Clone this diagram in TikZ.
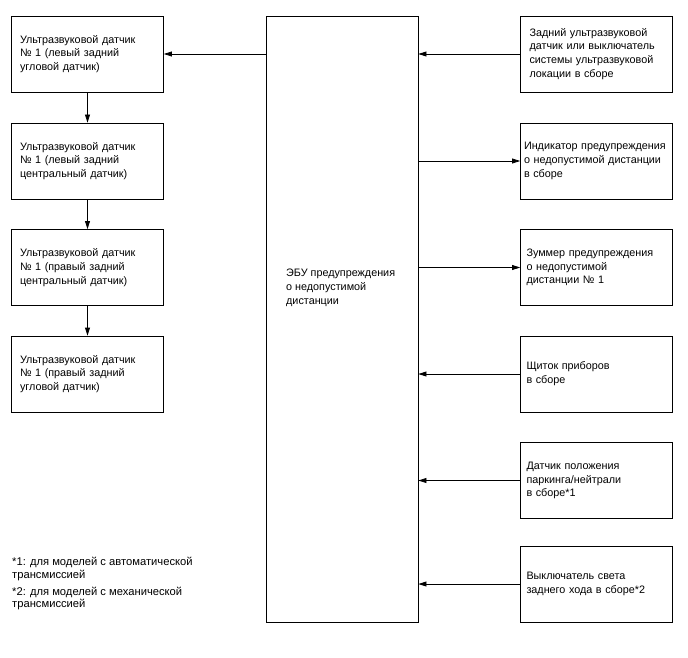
\documentclass[tikz,border=0pt]{standalone}
\usepackage{fontspec}
\setmainfont{Liberation Sans}
\usetikzlibrary{arrows.meta, calc}
\tikzset{
  block/.style={draw, line width=0.8pt, minimum width=152pt, minimum height=76pt,
    inner sep=0pt, text width=#1, align=left},
  block/.default=135pt,
  link/.style={-{Triangle[length=8pt, width=5pt]}, line width=0.8pt},
  note/.style={anchor=west, align=left, inner sep=0pt,
    font=\fontsize{11.2}{12.2}\selectfont},
  every node/.append style={font=\fontsize{10.8}{13.8}\selectfont}
}

\begin{document}
\begin{tikzpicture}[x=1pt, y=-1pt]
\useasboundingbox (0,0) rectangle (688,658);
% ECU
\node[draw, line width=0.8pt, minimum width=152pt, minimum height=606pt] (ecu) at (342,319) {};
\node[anchor=west, align=left, inner sep=0pt] (ecutext) at (286,288)
  {ЭБУ предупреждения\\о недопустимой\\дистанции};
% left column
\node[block] (sl1) at (87.5,54) {Ультразвуковой датчик\\№ 1 (левый задний\\угловой датчик)};
\node[block] (sl2) at (87.5,161) {Ультразвуковой датчик\\№ 1 (левый задний\\центральный датчик)};
\node[block] (sl3) at (87.5,267.5) {Ультразвуковой датчик\\№ 1 (правый задний\\центральный датчик)};
\node[block] (sl4) at (87.5,374) {Ультразвуковой датчик\\№ 1 (правый задний\\угловой датчик)};
% right column
\node[block=134pt] (sr1) at (596.5,54) {Задний ультразвуковой\\датчик или выключатель\\системы ультразвуковой\\локации в сборе};
\node[block=145pt] (sr2) at (596.5,161) {Индикатор предупреждения\\о недопустимой дистанции\\в сборе};
\node[block=140pt] (sr3) at (596.5,267.5) {Зуммер предупреждения\\о недопустимой\\дистанции № 1};
\node[block=140pt] (sr4) at (596.5,374) {Щиток приборов\\в сборе};
\node[block=140pt] (sr5) at (596.5,480.5) {Датчик положения\\паркинга/нейтрали\\в сборе*1};
\node[block=140pt] (sr6) at (596.5,584) {Выключатель света\\заднего хода в сборе*2};
% notes
\node[note] (fn1) at (12,569) {*1: для моделей с автоматической\\трансмиссией};
\node[note] (fn2) at (12,598.5) {*2: для моделей с механической\\трансмиссией};
% connectors
\draw[link] (ecu.west |- sl1) -- (sl1.east);
\foreach \a/\b in {sl1/sl2, sl2/sl3, sl3/sl4}
  \draw[link] (\a.south) -- (\b.north);
\foreach \n in {sr1, sr4, sr5, sr6}
  \draw[link] (\n.west) -- (\n.west -| ecu.east);
\foreach \n in {sr2, sr3}
  \draw[link] (ecu.east |- \n) -- (\n.west);
\end{tikzpicture}
\end{document}
